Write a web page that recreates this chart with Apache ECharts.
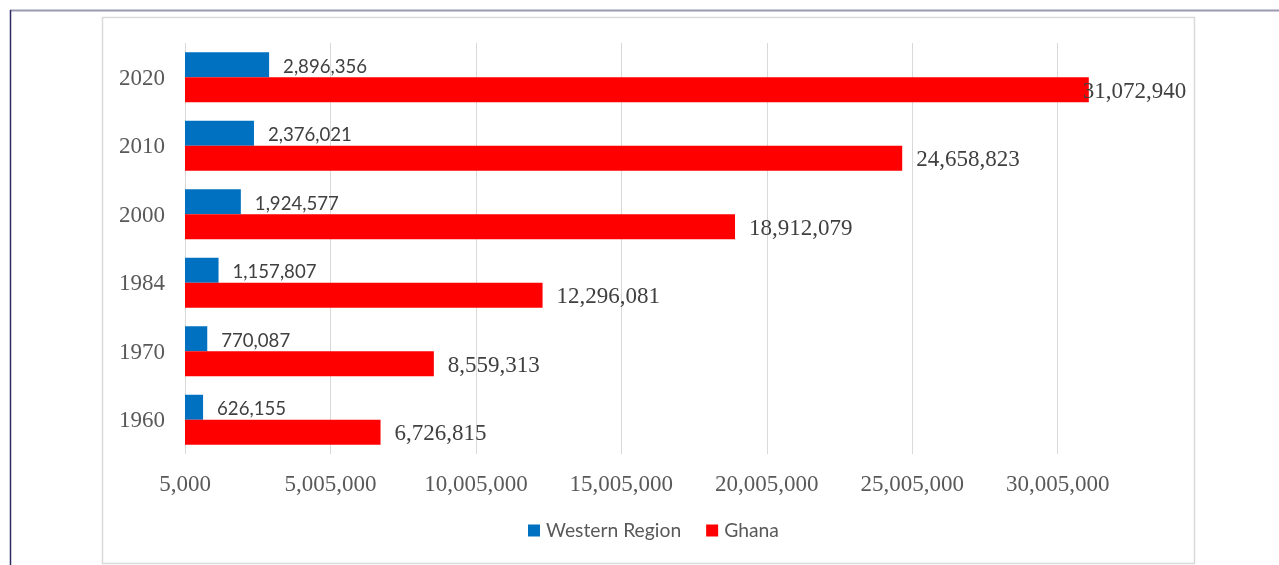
<!DOCTYPE html>
<html>
<head>
<meta charset="utf-8">
<script src="https://cdn.jsdelivr.net/npm/echarts@6/dist/echarts.min.js"></script>
<style>
  html, body { margin: 0; padding: 0; background: #ffffff; }
  #chart { width: 1279px; height: 565px; }
</style>
</head>
<body>
<div id="chart"></div>
<script>
// Census years and population counts
const years = ['1960', '1970', '1984', '2000', '2010', '2020'];
const westernRegion = [626155, 770087, 1157807, 1924577, 2376021, 2896356];
const ghana = [6726815, 8559313, 12296081, 18912079, 24658823, 31072940];
const seriesNames = ['Western Region', 'Ghana'];

// Value axis: ticks every 5,000,000 starting at 5,000
const axisMin = 5000;
const axisStep = 5000000;
const axisMax = 33005000;

function withCommas(v) {
  return String(Math.round(v)).replace(/\B(?=(\d{3})+(?!\d))/g, ',');
}

const serif = '"Liberation Serif", "Times New Roman", serif';
const sans = 'Lato, "Open Sans", sans-serif';

const chart = echarts.init(document.getElementById('chart'), null, { renderer: 'canvas' });

// The longest bar keeps its label pulled back inside the frame
const ghanaData = ghana.map(function (v, i) {
  if (i === ghana.length - 1) {
    return { value: v, label: { offset: [-20, 2] } };
  }
  return v;
});

chart.setOption({
  backgroundColor: '#ffffff',
  animation: false,
  graphic: [
    // page rules
    { type: 'line', shape: { x1: 10, y1: 10.5, x2: 1279, y2: 10.5 }, style: { stroke: '#9a9ab4', lineWidth: 2 } },
    { type: 'line', shape: { x1: 10.5, y1: 10, x2: 10.5, y2: 565 }, style: { stroke: '#2b2b63', lineWidth: 1.5 } },
    // chart frame
    { type: 'rect', shape: { x: 102.5, y: 17.5, width: 1092, height: 546 }, style: { fill: 'none', stroke: '#d9d9d9', lineWidth: 1.5 }, z: -1 }
  ],
  grid: { left: 185, right: 134, top: 43, bottom: 111, containLabel: false },
  legend: {
    data: seriesNames,
    top: 521,
    left: 528,
    padding: 0,
    icon: 'rect',
    itemWidth: 12,
    itemHeight: 12,
    itemGap: 25,
    textStyle: { fontFamily: sans, fontSize: 19.3, color: '#595959', padding: [0, 0, 0, 1] }
  },
  xAxis: {
    type: 'value',
    min: axisMin,
    max: axisMax,
    interval: axisStep,
    axisLine: { show: false },
    axisTick: { show: false },
    splitLine: { show: true, showMaxLine: false, lineStyle: { color: '#d9d9d9', width: 1 } },
    axisLabel: {
      showMaxLabel: false,
      margin: 19,
      fontFamily: serif,
      fontSize: 23,
      color: '#595959',
      formatter: withCommas
    }
  },
  yAxis: {
    type: 'category',
    data: years,
    axisLine: { show: false },
    axisTick: { show: false },
    axisLabel: {
      margin: 20,
      color: '#595959',
      formatter: '{y|{value}}',
      rich: { y: { fontFamily: serif, fontSize: 23, color: '#595959', padding: [3, 0, 0, 0] } }
    }
  },
  series: [
    {
      name: seriesNames[0],
      type: 'bar',
      data: westernRegion,
      itemStyle: { color: '#0070C0' },
      barGap: '0%',
      barCategoryGap: '27%',
      label: {
        show: true,
        position: 'right',
        distance: 14,
        offset: [0, 2],
        fontFamily: sans,
        fontSize: 18.6,
        color: '#404040',
        formatter: function (p) { return withCommas(p.value); }
      }
    },
    {
      name: seriesNames[1],
      type: 'bar',
      data: ghanaData,
      itemStyle: { color: '#FF0000' },
      barGap: '0%',
      barCategoryGap: '27%',
      label: {
        show: true,
        position: 'right',
        distance: 14,
        offset: [0, 2],
        fontFamily: serif,
        fontSize: 23,
        color: '#404040',
        formatter: function (p) { return withCommas(p.value); }
      }
    }
  ]
});
</script>
</body>
</html>
